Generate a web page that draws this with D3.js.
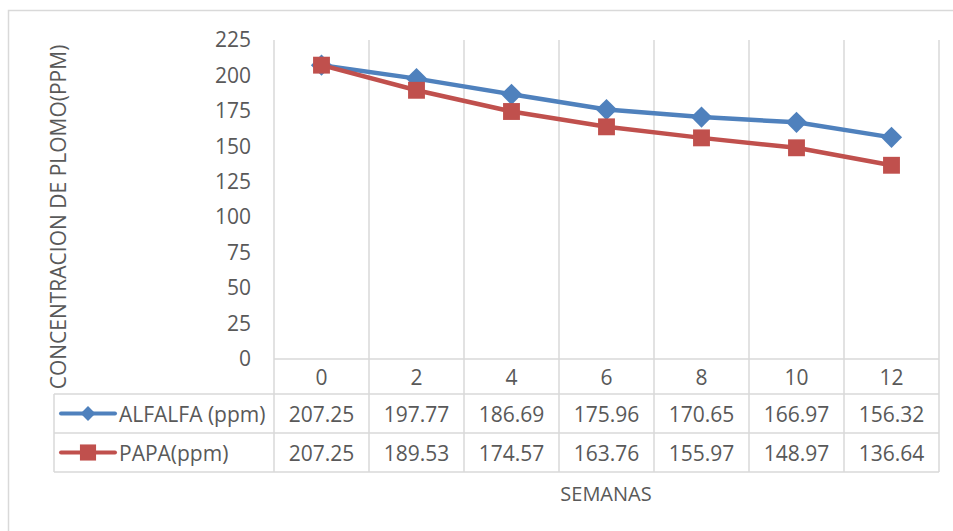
<!DOCTYPE html>
<html>
<head>
<meta charset="utf-8">
<script src="https://cdn.jsdelivr.net/npm/d3@7"></script>
<style>
  body { margin: 0; background: #fff; }
  text { font-family: "Open Sans", sans-serif; fill: #595959; }
</style>
</head>
<body>
<div id="chart"></div>
<script>
// data
var semanas = ["0", "2", "4", "6", "8", "10", "12"];
var alfalfa = [207.25, 197.77, 186.69, 175.96, 170.65, 166.97, 156.32];
var papa = [207.25, 189.53, 174.57, 163.76, 155.97, 148.97, 136.64];
var yTicks = [0, 25, 50, 75, 100, 125, 150, 175, 200, 225];
var seriesNames = ["ALFALFA (ppm)", "PAPA(ppm)"];

var svgWidth = 953;
var svgHeight = 531;

var plot = { left: 274, right: 939, top: 40, bottom: 359 };
var rowH = 39;
var tableLeft = 54;
var gridColor = "#d9d9d9";
var blue = "#4f81bd";
var red = "#c0504d";
var fontSize = "21px";

var svg = d3.select("#chart")
    .append("svg")
    .attr("width", svgWidth)
    .attr("height", svgHeight);

// outer frame (right and bottom fall outside the window)
svg.append("rect")
    .attr("x", 8.5).attr("y", 10.5)
    .attr("width", 1000).attr("height", 600)
    .attr("fill", "none")
    .attr("stroke", gridColor)
    .attr("stroke-width", 1.5);

var xScale = d3.scaleBand()
    .domain(semanas)
    .range([plot.left, plot.right]);

var yScale = d3.scaleLinear()
    .domain([0, 225])
    .range([plot.bottom, plot.top]);

var cx = d => xScale(d) + xScale.bandwidth() / 2;

// vertical gridlines at category boundaries
var bounds = semanas.map(d => xScale(d)).concat([plot.right]);
svg.append("g")
    .selectAll("line")
    .data(bounds)
    .enter()
    .append("line")
    .attr("x1", d => d).attr("x2", d => d)
    .attr("y1", plot.top).attr("y2", plot.bottom + 35 + rowH * 2)
    .attr("stroke", gridColor)
    .attr("stroke-width", 1.5);

// table horizontal lines
var tableTop = plot.bottom;
var hLines = [
    { y: tableTop, x1: plot.left },
    { y: tableTop + 35, x1: tableLeft },
    { y: tableTop + 35 + rowH, x1: tableLeft },
    { y: tableTop + 35 + rowH * 2, x1: tableLeft }
];
svg.append("g")
    .selectAll("line")
    .data(hLines)
    .enter()
    .append("line")
    .attr("x1", d => d.x1).attr("x2", plot.right)
    .attr("y1", d => d.y).attr("y2", d => d.y)
    .attr("stroke", gridColor)
    .attr("stroke-width", 1.5);

// table left edge
svg.append("line")
    .attr("x1", tableLeft).attr("x2", tableLeft)
    .attr("y1", tableTop + 35).attr("y2", tableTop + 35 + rowH * 2)
    .attr("stroke", gridColor)
    .attr("stroke-width", 1.5);

// y axis
var leftAxis = d3.axisLeft(yScale)
    .tickValues(yTicks)
    .tickSize(0)
    .tickPadding(0);
var yAxis = svg.append("g")
    .attr("transform", "translate(251, 0)")
    .call(leftAxis);
yAxis.select(".domain").remove();
yAxis.selectAll("text")
    .style("font-size", fontSize)
    .style("font-family", "'Open Sans', sans-serif")
    .attr("fill", "#595959");

// category labels (first table row)
svg.append("g")
    .selectAll("text")
    .data(semanas)
    .enter()
    .append("text")
    .attr("x", cx)
    .attr("y", tableTop + 18)
    .attr("text-anchor", "middle")
    .attr("dominant-baseline", "central")
    .style("font-size", fontSize)
    .text(d => d);

// diamond = square turned 45deg
var rows = [
    { name: seriesNames[0], values: alfalfa, color: blue, rot: 45, size: 225, keySize: 110 },
    { name: seriesNames[1], values: papa, color: red, rot: 0, size: 285, keySize: 260 }
];

rows.forEach(function (row, i) {
    var cy = tableTop + 35 + rowH * i + rowH / 2;
    var g = svg.append("g");
    g.selectAll("text.val")
        .data(row.values)
        .enter()
        .append("text")
        .attr("class", "val")
        .attr("x", (d, j) => cx(semanas[j]))
        .attr("y", cy)
        .attr("text-anchor", "middle")
        .attr("dominant-baseline", "central")
        .style("font-size", fontSize)
        .text(d => d.toFixed(2));

    // legend key
    g.append("line")
        .attr("x1", 61).attr("x2", 115)
        .attr("y1", cy).attr("y2", cy)
        .attr("stroke", row.color)
        .attr("stroke-width", 4)
        .attr("stroke-linecap", "round");
    g.append("path")
        .attr("d", d3.symbol().type(d3.symbolSquare).size(row.keySize)())
        .attr("transform", `translate(88, ${cy}) rotate(${row.rot})`)
        .attr("fill", row.color);
    g.append("text")
        .attr("x", 119)
        .attr("y", cy)
        .attr("dominant-baseline", "central")
        .style("font-size", fontSize)
        .text(row.name);
});

// lines and markers
var line = d3.line()
    .x((d, j) => cx(semanas[j]))
    .y(d => yScale(d));

rows.forEach(function (row) {
    svg.append("path")
        .datum(row.values)
        .attr("d", line)
        .attr("fill", "none")
        .attr("stroke", row.color)
        .attr("stroke-width", 4.5)
        .attr("stroke-linejoin", "round");

    svg.append("g")
        .selectAll("path")
        .data(row.values)
        .enter()
        .append("path")
        .attr("d", d3.symbol().type(d3.symbolSquare).size(row.size)())
        .attr("transform", (d, j) => `translate(${cx(semanas[j])}, ${yScale(d)}) rotate(${row.rot})`)
        .attr("fill", row.color);
});

// axis titles
svg.append("text")
    .attr("transform", "translate(58, 217) rotate(-90)")
    .attr("text-anchor", "middle")
    .attr("dominant-baseline", "central")
    .style("font-size", "21px")
    .text("CONCENTRACION DE PLOMO(PPM)");

svg.append("text")
    .attr("x", 606)
    .attr("y", 493)
    .attr("text-anchor", "middle")
    .attr("dominant-baseline", "central")
    .style("font-size", "20px")
    .text("SEMANAS");
</script>
</body>
</html>
